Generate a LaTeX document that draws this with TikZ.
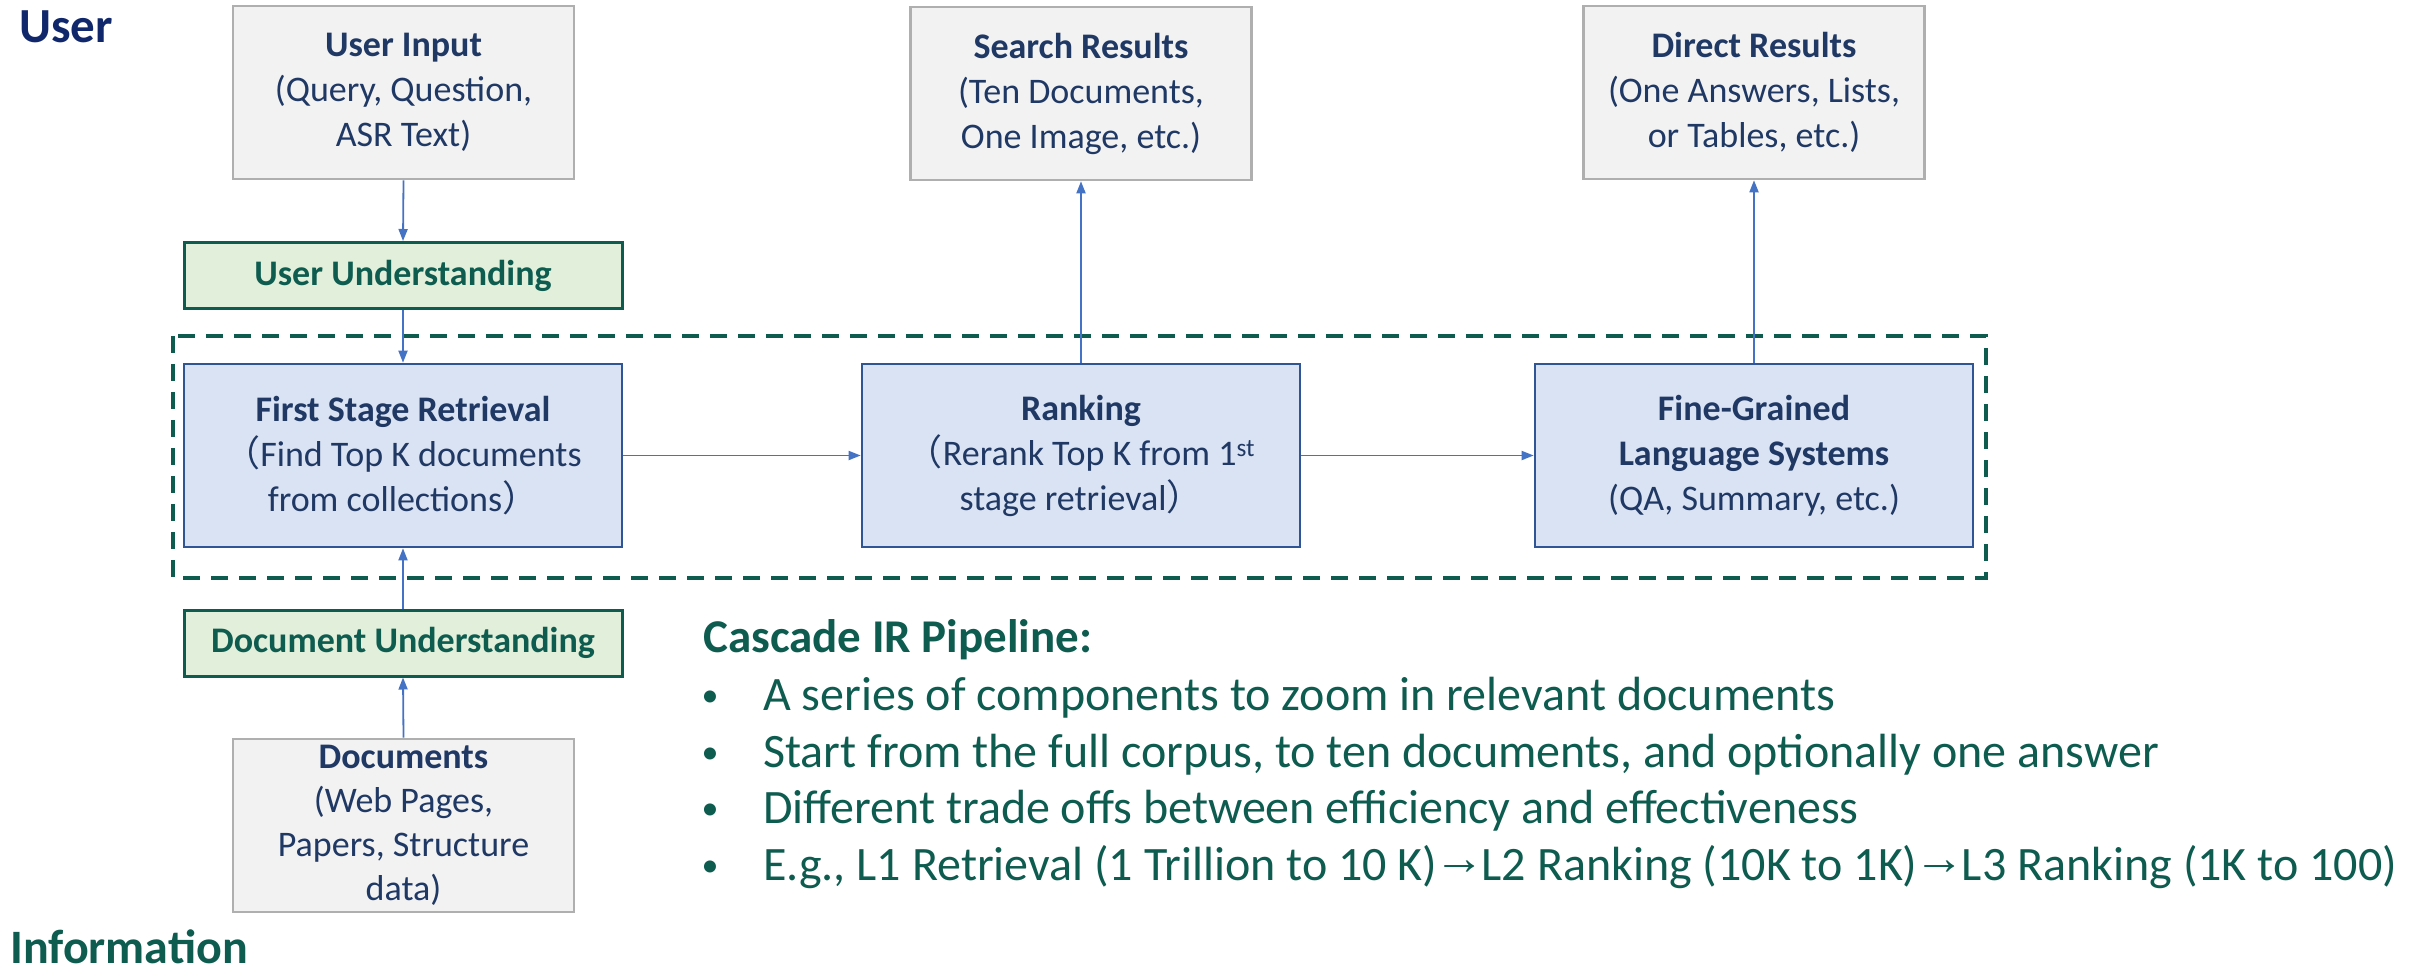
\documentclass[tikz,border=0pt]{standalone}
\usepackage{fontspec}
\setmainfont{Carlito}
\newfontfamily\cjkfont{Noto Sans CJK SC}
\newfontfamily\arrowfont{Liberation Sans}
\usetikzlibrary{arrows.meta}

\definecolor{navy}{HTML}{1F3864}
\definecolor{userblue}{HTML}{10286B}
\definecolor{teal}{HTML}{0E5C50}
\definecolor{greyfill}{HTML}{F2F2F2}
\definecolor{greyline}{HTML}{AFAFAF}
\definecolor{greenfill}{HTML}{E2EFDA}
\definecolor{bluefill}{HTML}{DAE3F3}
\definecolor{blueline}{HTML}{2F5597}
\definecolor{arrowblue}{HTML}{4472C4}

\newcommand{\fwl}{{\cjkfont （}}
\newcommand{\fwr}{{\cjkfont ）}}
\newcommand{\rarr}{\kern-3pt\raisebox{6pt}{\scalebox{1.05}[1]{\arrowfont →}}\kern-3pt}
\newcommand{\bulletmark}{\raisebox{4pt}{\fontsize{34}{34}\selectfont •}}

\begin{document}
\begin{tikzpicture}[x=1pt,y=-1pt,
  boxtext/.style={font=\fontsize{36}{45}\selectfont, align=center, inner sep=0pt},
  greybox/.style={boxtext, draw=greyline, fill=greyfill, line width=2.6pt,
    minimum width=341pt, minimum height=173pt, text=navy},
  greenbox/.style={boxtext, draw=teal, fill=greenfill, line width=3pt,
    minimum width=438pt, minimum height=66pt, text=teal, font=\fontsize{36}{45}\selectfont\bfseries},
  bluebox/.style={boxtext, draw=blueline, fill=bluefill, line width=2.6pt,
    minimum width=438pt, minimum height=183pt, text=navy},
  flow/.style={draw=arrowblue, line width=1.8pt, -{Triangle[length=12pt,width=9pt]}},
  stagegroup/.style={draw=teal, line width=3.6pt, dash pattern=on 17pt off 11pt},
  sidelabel/.style={font=\fontsize{49}{49}\selectfont\bfseries, anchor=base west, inner sep=0pt},
  bullettext/.style={font=\fontsize{48}{48}\selectfont, text=teal, anchor=base west, inner sep=0pt},
  bulletdot/.style={text=teal, anchor=base, inner sep=0pt}
]
\useasboundingbox (0,0) rectangle (2420,974);

% side labels
\node[sidelabel, text=userblue] (userlbl) at (19,43) {User};
\node[sidelabel, text=teal, font=\fontsize{48}{48}\selectfont\bfseries] (infolbl) at (10,963) {Information};

% dashed frame around the cascade stages
\draw[stagegroup] (173,336) rectangle (1986,578);

% top row: inputs and outputs
\node[greybox] (userin) at (403.5,92.5) {\textbf{User Input}\\(Query, Question,\\ASR Text)};
\node[greybox] (search) at (1081,93.5) {\textbf{Search Results}\\(Ten Documents,\\One Image, etc.)};
\node[greybox] (direct) at (1754,92.5) {\textbf{Direct Results}\\(One Answers, Lists,\\or Tables, etc.)};

% understanding modules
\node[greenbox] (uu) at (403,275.5) {User Understanding};
\node[greenbox] (du) at (403,643) {Document Understanding};

% cascade stages
\node[bluebox] (fsr) at (403,455.5) {\textbf{First Stage Retrieval}\\\fwl Find Top K documents\\from collections\fwr};
\node[bluebox] (rank) at (1081,455.5) {\textbf{Ranking}\\\fwl Rerank Top K from 1\textsuperscript{st}\\stage retrieval\fwr};
\node[bluebox] (fine) at (1754,455.5) {\textbf{Fine-Grained}\\\textbf{Language Systems}\\(QA, Summary, etc.)};

% document collection
\node[greybox, font=\fontsize{36}{44}\selectfont] (docs) at (403.5,825.5) {\textbf{Documents}\\(Web Pages,\\Papers, Structure\\data)};

% connectors
\draw[flow] (userin.south) -- (uu.north);
\draw[flow] (uu.south) -- (fsr.north);
\draw[flow] (docs.north) -- (du.south);
\draw[flow] (du.north) -- (fsr.south);
\draw[flow] (fsr.east) -- (rank.west);
\draw[flow] (rank.east) -- (fine.west);
\draw[flow] (rank.north) -- (search.south);
\draw[flow] (fine.north) -- (direct.south);

% pipeline notes
\node[bullettext, font=\fontsize{47}{47}\selectfont\bfseries] (title) at (703,652) {Cascade IR Pipeline:};
\node[bulletdot] (dot1) at (710,710) {\bulletmark};
\node[bullettext] (txt1) at (763,710) {A series of components to zoom in relevant documents};
\node[bulletdot] (dot2) at (710,767) {\bulletmark};
\node[bullettext] (txt2) at (763,767) {Start from the full corpus, to ten documents, and optionally one answer};
\node[bulletdot] (dot3) at (710,823) {\bulletmark};
\node[bullettext] (txt3) at (763,823) {Different trade offs between efficiency and effectiveness};
\node[bulletdot] (dot4) at (710,880) {\bulletmark};
\node[bullettext] (txt4) at (763,880) {E.g., L1 Retrieval (1 Trillion to 10 K)\rarr L2 Ranking (10K to 1K)\rarr L3 Ranking (1K to 100)};
\end{tikzpicture}
\end{document}
